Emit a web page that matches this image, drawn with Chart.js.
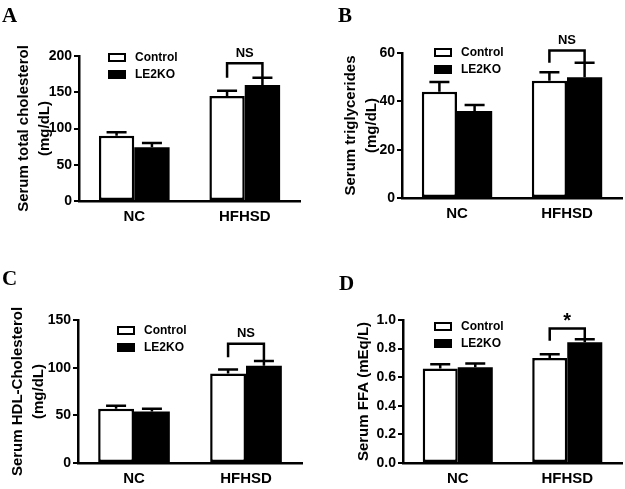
<!DOCTYPE html>
<html>
<head>
<meta charset="utf-8">
<script src="https://cdn.jsdelivr.net/npm/chart.js@4.4.1/dist/chart.umd.min.js"></script>
<style>
  html, body { margin: 0; padding: 0; background: #fff; }
  #wrap { position: relative; width: 625px; height: 489px; overflow: hidden; }
  .panel { position: absolute; }
</style>
</head>
<body>
<div id="wrap">
  <div class="panel" style="left:0;top:0"><canvas id="cA" width="312" height="240"></canvas></div>
  <div class="panel" style="left:312px;top:0"><canvas id="cB" width="313" height="240"></canvas></div>
  <div class="panel" style="left:0;top:240px"><canvas id="cC" width="312" height="249"></canvas></div>
  <div class="panel" style="left:312px;top:240px"><canvas id="cD" width="313" height="249"></canvas></div>
</div>
<script>
// groups and series
const groups = ['NC', 'HFHSD'];
const seriesNames = ['Control', 'LE2KO'];

// A: total cholesterol (mg/dL)
const cholControl = [90, 145];
const cholControlSem = [5, 7];
const cholKO = [74, 160];
const cholKOSem = [6, 10];
const cholBracket = [190, 170, 170]; // top, left leg end, right leg end

// B: triglycerides (mg/dL)
const tgControl = [44, 48.5];
const tgControlSem = [4, 3.5];
const tgKO = [36, 50];
const tgKOSem = [2.5, 6];
const tgBracket = [61, 56, 56];

// C: HDL cholesterol (mg/dL)
const hdlControl = [57, 94];
const hdlControlSem = [3, 4];
const hdlKO = [54, 102];
const hdlKOSem = [3, 5];
const hdlBracket = [125, 111, 107];

// D: free fatty acids (mEq/L)
const ffaControl = [0.66, 0.735];
const ffaControlSem = [0.03, 0.025];
const ffaKO = [0.67, 0.845];
const ffaKOSem = [0.025, 0.02];
const ffaBracket = [0.94, 0.855, 0.865];

const FONT = '"Liberation Sans", Arial, sans-serif';

// error bars (up only), significance bracket, legend and panel letter
const extrasPlugin = {
  id: 'extras',
  afterDatasetsDraw(chart, args, o) {
    const ctx = chart.ctx;
    const y = chart.scales.y;
    const area = chart.chartArea;
    ctx.save();
    ctx.strokeStyle = '#000';
    ctx.lineWidth = 2.5;

    chart.data.datasets.forEach((ds, di) => {
      chart.getDatasetMeta(di).data.forEach((bar, i) => {
        const top = y.getPixelForValue(ds.data[i] + ds.sem[i]);
        ctx.beginPath();
        ctx.moveTo(bar.x, bar.y);
        ctx.lineTo(bar.x, top);
        ctx.moveTo(bar.x - 10, top);
        ctx.lineTo(bar.x + 10, top);
        ctx.stroke();
      });
    });

    // bracket
    const b = o.bracket;
    const p0 = chart.getDatasetMeta(0).data[1];
    const p1 = chart.getDatasetMeta(1).data[1];
    const yt = y.getPixelForValue(b[0]);
    ctx.beginPath();
    ctx.moveTo(p0.x, y.getPixelForValue(b[1]));
    ctx.lineTo(p0.x, yt);
    ctx.lineTo(p1.x, yt);
    ctx.lineTo(p1.x, y.getPixelForValue(b[2]));
    ctx.stroke();
    ctx.fillStyle = '#000';
    ctx.textAlign = 'center';
    ctx.textBaseline = 'middle';
    ctx.font = o.mark === '*' ? 'bold 20px ' + FONT : 'bold 13px ' + FONT;
    ctx.fillText(o.mark, (p0.x + p1.x) / 2, yt - (o.mark === '*' ? 7 : 10));

    // legend
    const lx = area.left + o.legend[0];
    const ly = area.top + o.legend[1];
    chart.data.datasets.forEach((ds, di) => {
      const yy = ly + di * 17;
      ctx.fillStyle = ds.backgroundColor;
      ctx.fillRect(lx, yy, 18, 9);
      ctx.lineWidth = 2;
      ctx.strokeRect(lx + 1, yy + 1, 16, 7);
      ctx.fillStyle = '#000';
      ctx.font = 'bold 12px ' + FONT;
      ctx.textAlign = 'left';
      ctx.fillText(ds.label, lx + 27, yy + 5);
    });

    // panel letter
    ctx.font = 'bold 21px "Liberation Serif", "Times New Roman", serif';
    ctx.textBaseline = 'alphabetic';
    ctx.fillText(o.letter, o.letterPos[0], o.letterPos[1]);
    ctx.restore();
  }
};

function makePanel(id, p) {
  new Chart(document.getElementById(id), {
    type: 'bar',
    data: {
      labels: groups,
      datasets: [
        { label: seriesNames[0], data: p.ctl, sem: p.ctlSem, backgroundColor: '#fff',
          borderColor: '#000', borderWidth: 2.5, borderSkipped: false },
        { label: seriesNames[1], data: p.ko, sem: p.koSem, backgroundColor: '#000',
          borderColor: '#000', borderWidth: 0 },
      ],
    },
    options: {
      responsive: false,
      animation: false,
      devicePixelRatio: 1,
      layout: { padding: { left: 0, top: p.padTop, right: p.padRight, bottom: 0 } },
      datasets: { bar: { categoryPercentage: 0.64, barPercentage: 1 } },
      plugins: {
        legend: { display: false },
        tooltip: { enabled: false },
        extras: { bracket: p.bracket, mark: p.mark, legend: p.legend, letter: p.letter, letterPos: p.letterPos },
      },
      scales: {
        x: {
          grid: { display: false, drawTicks: false },
          border: { color: '#000', width: 2.5 },
          ticks: { color: '#000', padding: 7, font: { family: FONT, size: 15, weight: 'bold' } },
          afterFit(s) { s.height = p.xHeight; },
        },
        y: {
          min: 0,
          max: p.max,
          ticks: {
            stepSize: p.step,
            color: '#000',
            padding: 2,
            font: { family: FONT, size: 14, weight: 'bold' },
            callback: (v) => (p.decimals ? Number(v).toFixed(p.decimals) : v),
          },
          grid: { drawOnChartArea: false, drawTicks: true, tickLength: 5, color: '#000', lineWidth: 2 },
          border: { color: '#000', width: 2.5 },
          title: {
            display: true,
            text: p.title,
            color: '#000',
            font: { family: FONT, size: 15, weight: 'bold', lineHeight: 1.4 },
            padding: { top: p.titlePad, bottom: 0 },
          },
          afterFit(s) { s.width = p.yWidth; },
        },
      },
    },
    plugins: [extrasPlugin],
  });
}

makePanel('cA', {
  ctl: cholControl, ctlSem: cholControlSem, ko: cholKO, koSem: cholKOSem,
  bracket: cholBracket, mark: 'NS', max: 200, step: 50,
  title: ['Serum total cholesterol', '(mg/dL)'], titlePad: 13,
  padTop: 56, padRight: 12, yWidth: 79, xHeight: 39,
  legend: [29, -3], letter: 'A', letterPos: [2, 22],
});
makePanel('cB', {
  ctl: tgControl, ctlSem: tgControlSem, ko: tgKO, koSem: tgKOSem,
  bracket: tgBracket, mark: 'NS', max: 60, step: 20,
  title: ['Serum triglycerides', '(mg/dL)'], titlePad: 28,
  padTop: 53, padRight: 3, yWidth: 90, xHeight: 42,
  legend: [32, -5], letter: 'B', letterPos: [26, 22],
});
makePanel('cC', {
  ctl: hdlControl, ctlSem: hdlControlSem, ko: hdlKO, koSem: hdlKOSem,
  bracket: hdlBracket, mark: 'NS', max: 150, step: 50,
  title: ['Serum HDL-Cholesterol', '(mg/dL)'], titlePad: 7,
  padTop: 80, padRight: 10, yWidth: 78, xHeight: 26,
  legend: [39, 6], letter: 'C', letterPos: [2, 45],
});
makePanel('cD', {
  ctl: ffaControl, ctlSem: ffaControlSem, ko: ffaKO, koSem: ffaKOSem,
  bracket: ffaBracket, mark: '*', max: 1.0, step: 0.2, decimals: 1,
  title: 'Serum FFA (mEq/L)', titlePad: 41,
  padTop: 80, padRight: 3, yWidth: 91, xHeight: 26,
  legend: [31, 2], letter: 'D', letterPos: [27, 50],
});
</script>
</body>
</html>
